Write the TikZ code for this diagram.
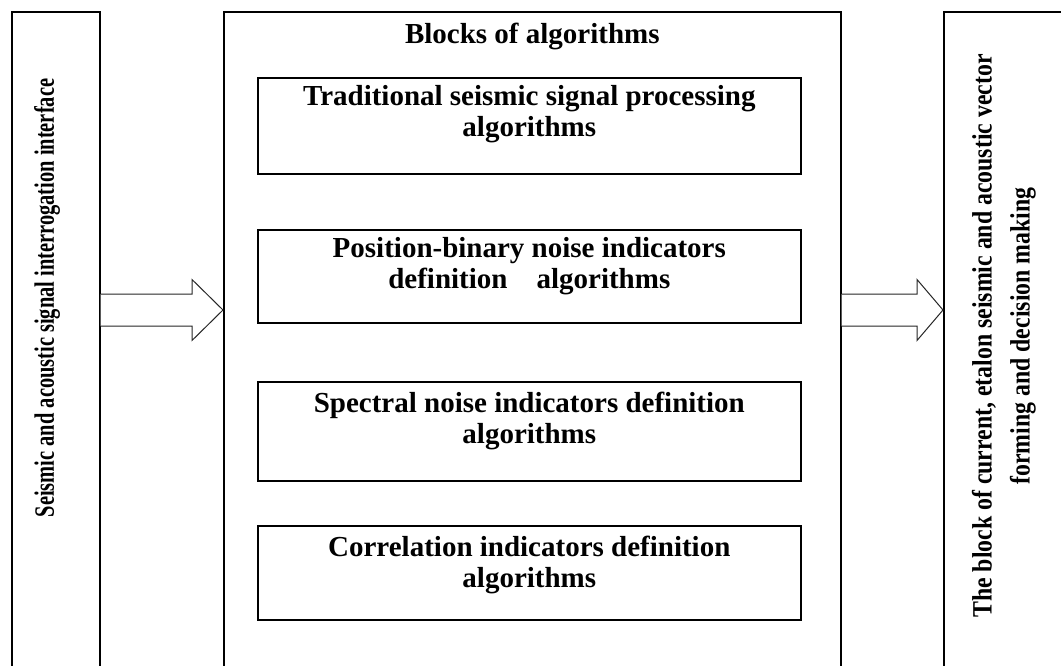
\documentclass[tikz,border=0pt]{standalone}
\usepackage{fontspec}
\setmainfont{Liberation Serif}
\usetikzlibrary{calc,positioning}
\tikzset{
	bigbox/.style={draw, line width=1.6pt, anchor=north west, inner sep=0pt},
	algobox/.style={draw, line width=1.6pt, anchor=north west, minimum width=543pt, inner sep=0pt},
	algotext/.style={align=center, inner sep=0pt, font=\fontsize{29}{31}\selectfont\bfseries},
	sidetext/.style={rotate=90, inner sep=0pt, font=\fontsize{28}{38}\selectfont\bfseries},
	fatarrow/.style={draw=black!85, line width=1pt, fill=white}
}
\def\fatarrow(#1)(#2)(#3){\draw[fatarrow] ($(#1)+(0,-16)$) -- ($(#2)+(-#3,-16)$) -- ($(#2)+(-#3,-30.5)$) -- (#2) -- ($(#2)+(-#3,30.5)$) -- ($(#2)+(-#3,16)$) -- ($(#1)+(0,16)$);}

\begin{document}
\begin{tikzpicture}[x=1pt, y=-1pt]
				\useasboundingbox (0,0) rectangle (1061,666);
				\clip (0,0) rectangle (1061,666);
				
				\node[bigbox, minimum width=88pt, minimum height=700pt] (iface) at (11,11) {};
				\node[bigbox, minimum width=617pt, minimum height=700pt] (algos) at (223,11) {};
				\node[bigbox, minimum width=200pt, minimum height=700pt] (decision) at (943,11) {};
				
				\node[algobox, minimum height=96pt] (trad) at (257,77) {};
				\node[algobox, minimum height=93pt] (posbin) at (257,229) {};
				\node[algobox, minimum height=99pt] (spectral) at (257,381) {};
				\node[algobox, minimum height=94pt] (corr) at (257,525) {};
				
				\node[algotext, below=12pt of algos.north] (algostitle) {Blocks of algorithms};
				\node[algotext, below=8pt of trad.north] (tradtext) {Traditional seismic signal processing\\algorithms};
				\node[algotext, below=8pt of posbin.north] (posbintext) {Position-binary noise indicators\\definition\quad algorithms};
				\node[algotext, below=11pt of spectral.north] (spectraltext) {Spectral noise indicators definition\\algorithms};
				\node[algotext, below=11pt of corr.north] (corrtext) {Correlation indicators definition\\algorithms};
				
				\node[sidetext] (ifacetext) at (47,298) {\scalebox{0.73}[1]{Seismic and acoustic signal interrogation interface}};
				\node[sidetext] (decisiontext) at (1003,336) {\scalebox{0.85}[1]{\begin{tabular}{@{}c@{}}The block of current, etalon seismic and acoustic vector\\forming and decision making\end{tabular}}};
				
				\coordinate (arrowrow) at (0,310);
				\fatarrow(iface.east |- arrowrow)(algos.west |- arrowrow)(31)
				\fatarrow(algos.east |- arrowrow)(decision.west |- arrowrow)(26)
			\end{tikzpicture}
\end{document}
